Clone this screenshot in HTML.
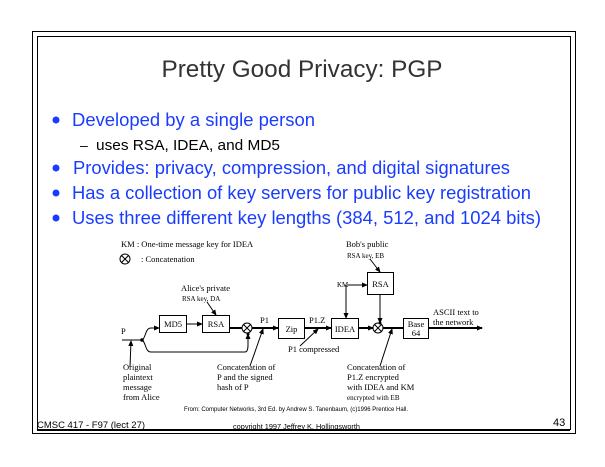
<!DOCTYPE html>
<html><head><meta charset="utf-8"><style>
body{margin:0;background:#fff;}
svg{display:block;}
</style></head><body>
<svg width="605" height="467" viewBox="0 0 605 467" xmlns="http://www.w3.org/2000/svg" font-family="Liberation Sans, sans-serif">
<defs>
<marker id="a" markerWidth="6" markerHeight="6" refX="5" refY="3" orient="auto" markerUnits="userSpaceOnUse"><path d="M0,0.5 L6,3 L0,5.5z" fill="#000"/></marker>
</defs>
<rect x="32.5" y="31.5" width="543" height="402" fill="none" stroke="#000"/>
<rect x="37.5" y="36.5" width="533" height="393" fill="none" stroke="#000"/>
<text x="302" y="77" font-size="24" fill="#333" text-anchor="middle" textLength="281" lengthAdjust="spacingAndGlyphs">Pretty Good Privacy: PGP</text>
<g fill="#1a3cff" font-size="18.4">
<circle cx="56" cy="120" r="3.5"/><text x="72" y="126" textLength="243" lengthAdjust="spacingAndGlyphs">Developed by a single person</text>
<circle cx="56" cy="168" r="3.5"/><text x="73" y="174" textLength="437" lengthAdjust="spacingAndGlyphs">Provides: privacy, compression, and digital signatures</text>
<circle cx="56" cy="193" r="3.5"/><text x="72" y="199" textLength="459" lengthAdjust="spacingAndGlyphs">Has a collection of key servers for public key registration</text>
<circle cx="56" cy="218" r="3.5"/><text x="72" y="224" textLength="469" lengthAdjust="spacingAndGlyphs">Uses three different key lengths (384, 512, and 1024 bits)</text>
</g>
<text x="79" y="172" font-size="1"> </text>
<text x="80" y="150" font-size="14">–</text>
<text x="96" y="150" font-size="14.5" textLength="184" lengthAdjust="spacingAndGlyphs">uses RSA, IDEA, and MD5</text>

<g font-family="Liberation Serif, serif" font-size="8.5" fill="#000">
<text x="121" y="247">KM : One-time message key for IDEA</text>
<text x="141" y="262">: Concatenation</text>
<text x="346" y="247">Bob's public</text>
<text x="347" y="258" font-size="7">RSA key, EB</text>
<text x="181" y="291">Alice's private</text>
<text x="182" y="301" font-size="7">RSA key, DA</text>
<text x="337" y="287" font-size="7">KM</text>
<text x="121" y="334">P</text>
<text x="260" y="323">P1</text>
<text x="309" y="323">P1.Z</text>
<text x="433" y="315">ASCII text to</text>
<text x="433" y="325">the network</text>
<text x="288" y="352">P1 compressed</text>
<text x="123" y="370">Original</text><text x="123" y="380">plaintext</text><text x="123" y="390">message</text><text x="123" y="400">from Alice</text>
<text x="217" y="370">Concatenation of</text><text x="217" y="380">P and the signed</text><text x="217" y="390">hash of P</text>
<text x="347" y="370">Concatenation of</text><text x="347" y="380">P1.Z encrypted</text><text x="347" y="390">with IDEA and KM</text><text x="347" y="400" font-size="7">encrypted with EB</text>
<text x="184" y="411" font-size="6" font-family="Liberation Sans, sans-serif">From: Computer Networks, 3rd Ed. by Andrew S. Tanenbaum, (c)1996 Prentice Hall.</text>
<g text-anchor="middle">
<text x="173" y="327">MD5</text>
<text x="216" y="327">RSA</text>
<text x="291.5" y="332">Zip</text>
<text x="345" y="332">IDEA</text>
<text x="380.5" y="287">RSA</text>
<text x="416" y="327">Base</text>
<text x="416" y="336">64</text>
</g>
</g>
<g fill="none" stroke="#000" stroke-width="1">
<circle cx="125" cy="259" r="5"/><path d="M121.5,255.5l7,7M128.5,255.5l-7,7"/>
<rect x="159.5" y="315.5" width="27" height="17"/>
<rect x="202.5" y="315.5" width="27" height="17"/>
<rect x="278.5" y="318.5" width="26" height="20"/>
<rect x="331.5" y="318.5" width="27" height="20"/>
<rect x="367.5" y="272.5" width="26" height="22"/>
<rect x="403.5" y="318.5" width="25" height="20"/>
<circle cx="247" cy="328" r="5"/><path d="M243.5,324.5l7,7M250.5,324.5l-7,7"/>
<circle cx="378" cy="328" r="5"/><path d="M374.5,324.5l7,7M381.5,324.5l-7,7"/>
<path d="M122,340H142"/>
<path d="M142,340C146,338 145,328 151,328H159" marker-end="url(#a)"/>
<path d="M142,340C146,342 145,352 151,352H245Q248,352 248,345V334" marker-end="url(#a)"/>
<path d="M187,324H202" marker-end="url(#a)"/>
<path d="M230,328H242" stroke-width="2"/>
<path d="M252,328H278" stroke-width="2" marker-end="url(#a)"/>
<path d="M305,328H331" stroke-width="2" marker-end="url(#a)"/>
<path d="M359,328H373" stroke-width="2" marker-end="url(#a)"/>
<path d="M383,328H403" stroke-width="2"/>
<path d="M429,328H482" stroke-width="2" marker-end="url(#a)"/>
<path d="M348,285H367" marker-end="url(#a)"/>
<path d="M346,285V318" marker-end="url(#a)"/>
<path d="M380,295V323" marker-end="url(#a)"/>
<path d="M370,259L380,272" marker-end="url(#a)"/>
<path d="M207,302L216,315" marker-end="url(#a)"/>
<path d="M130,367L131,341" marker-end="url(#a)"/>
<path d="M250,366L263,329" marker-end="url(#a)"/>
<path d="M300,346L318,329" marker-end="url(#a)"/>
<path d="M380,366L392,329" marker-end="url(#a)"/>
</g>
<circle cx="142" cy="340" r="1.8"/>
<circle cx="248" cy="334" r="1.5"/>
<circle cx="380" cy="323" r="1.5"/>
<text x="37" y="428" font-size="9.5" textLength="108" lengthAdjust="spacingAndGlyphs">CMSC 417 - F97  (lect 27)</text>
<path d="M37,430.5H570" stroke="#000"/>
<text x="233" y="429" font-size="7" textLength="127" lengthAdjust="spacingAndGlyphs">copyright 1997 Jeffrey K. Hollingsworth</text>
<text x="553" y="426" font-size="11">43</text>
</svg>
</body></html>
